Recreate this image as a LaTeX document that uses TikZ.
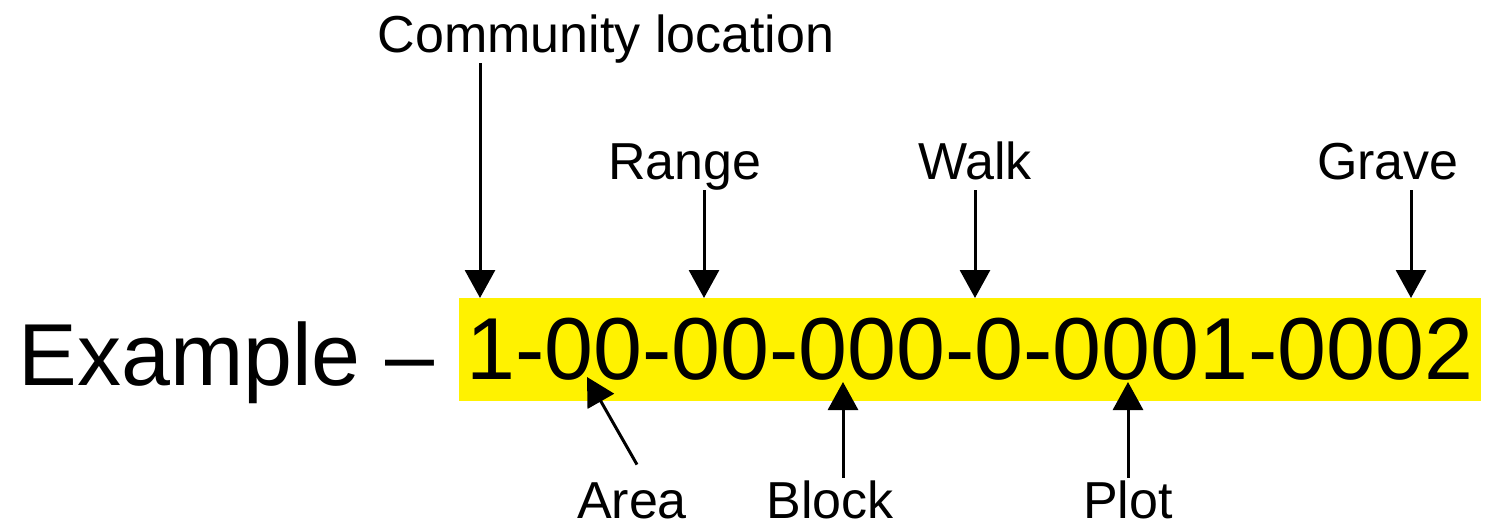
\documentclass[tikz,border=0pt]{standalone}
\usepackage{fontspec}
\setmainfont{Liberation Sans}
\usetikzlibrary{arrows.meta}
\newcommand{\bignum}{\fontsize{44}{50}\selectfont}
\tikzset{every picture/.style={x=0.5pt, y=-0.5pt}}
\tikzset{tag/.style={anchor=base, inner sep=1pt, text height=19pt, text depth=4pt, font=\fontsize{26}{30}\selectfont}}
\tikzset{pointer/.style={-{Triangle[length=14pt, width=15pt]}, line width=1.5pt}}

\begin{document}
\begin{tikzpicture}
\useasboundingbox (0,0) rectangle (1490,524);
\node[anchor=base west, inner sep=0, font=\bignum] (ex) at (18,385) {Example –};
\node[fill=yellow, minimum width=511pt, minimum height=51.5pt, inner sep=0, font=\bignum] (code) at (970,349.5) {1-00-00-000-0-0001-0002};

% labels
\node[tag] (comm) at (606,53) {Community location};
\node[tag] (range) at (685,180) {Range};
\node[tag] (walk) at (975,180) {Walk};
\node[tag] (grave) at (1388,180) {Grave};
\node[tag] (area) at (632,518) {Area};
\node[tag] (block) at (830,518) {Block};
\node[tag] (plot) at (1128,518) {Plot};

% arrow tips on the code
\coordinate (tcomm) at (480,298);
\coordinate (trange) at (704,298);
\coordinate (twalk) at (975,298);
\coordinate (tgrave) at (1411,298);
\coordinate (tarea) at (587,377);
\coordinate (tblock) at (843,382);
\coordinate (tplot) at (1128,382);

\foreach \i in {comm,range,walk,grave} {
\draw[pointer] (\i.south -| t\i) -- (t\i);
}
\foreach \i in {block,plot} {
\draw[pointer] (\i.north -| t\i) -- (t\i);
}
\draw[pointer] (area.north) ++(5,-13) -- (tarea);
\end{tikzpicture}
\end{document}
